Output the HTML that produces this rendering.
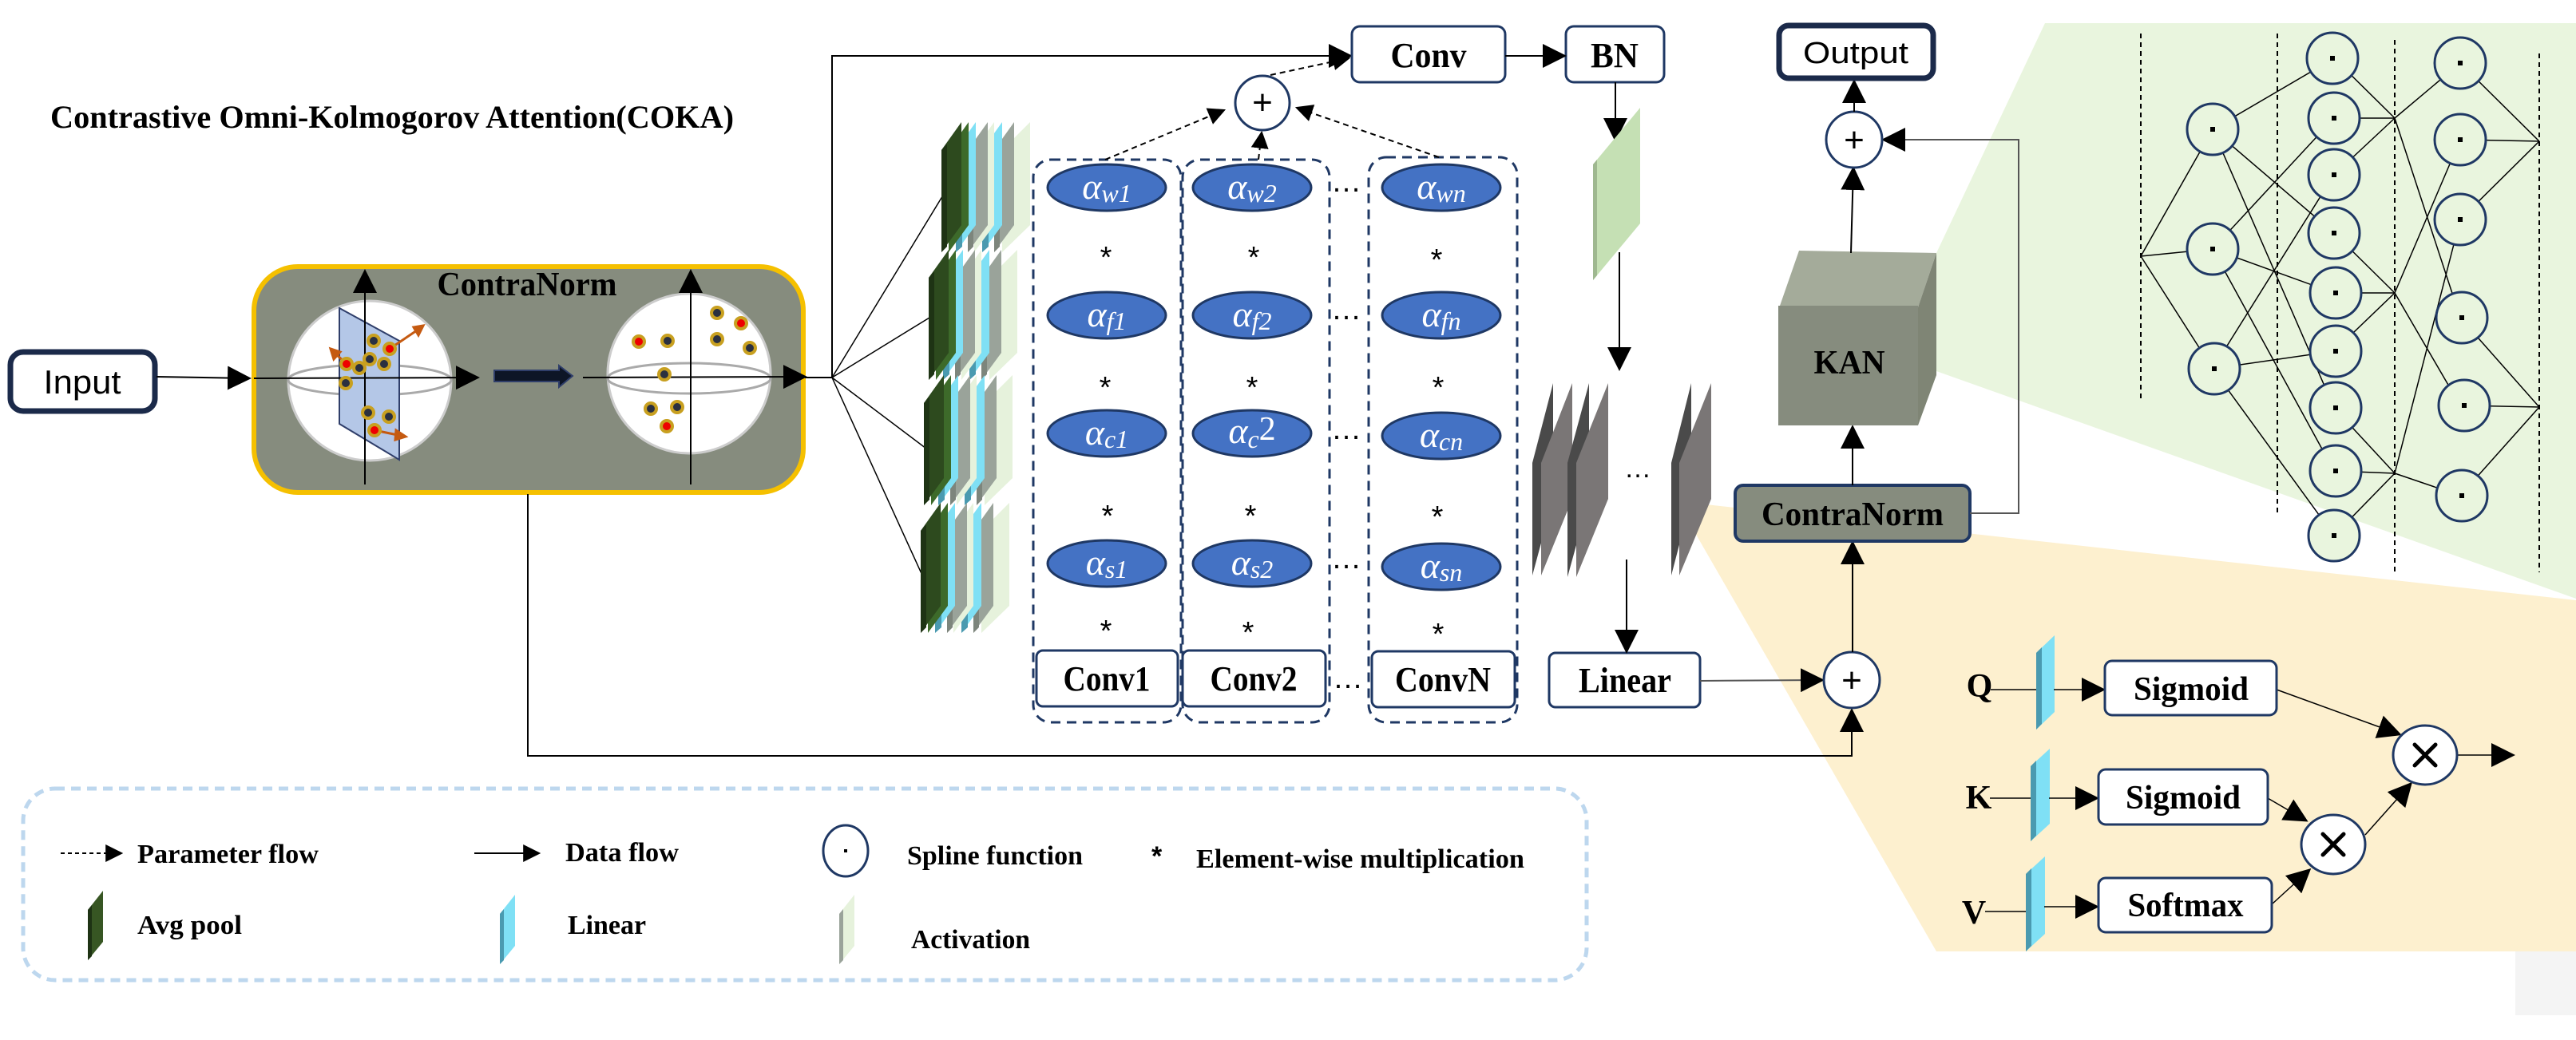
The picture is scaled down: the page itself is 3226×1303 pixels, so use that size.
<!DOCTYPE html>
<html><head><meta charset="utf-8"><style>html,body{margin:0;padding:0;background:#fff}svg{display:block}</style></head><body>
<svg width="3226" height="1303" viewBox="0 0 3226 1303" xmlns="http://www.w3.org/2000/svg" font-family="'Liberation Serif', serif">
<defs>
<marker id="a" viewBox="0 0 10 10" refX="9" refY="5" markerWidth="22" markerHeight="22" markerUnits="userSpaceOnUse" orient="auto"><path d="M0,0 L10,5 L0,10 z" fill="#000"/></marker>
<marker id="b" viewBox="0 0 10 10" refX="9" refY="5" markerWidth="30" markerHeight="30" markerUnits="userSpaceOnUse" orient="auto"><path d="M0,0 L10,5 L0,10 z" fill="#000"/></marker>
</defs>
<polygon points="2561,29 3226,29 3226,750 2425,465 2425,317" fill="#e9f5de"/>
<polygon points="2100,628 3226,752 3226,1192 2425,1192" fill="#fdf0cf"/>
<rect x="3150" y="1192" width="76" height="80" fill="#f4f4f4"/>

<text x="63" y="160" font-size="40" font-weight="bold" textLength="856" lengthAdjust="spacingAndGlyphs">Contrastive Omni-Kolmogorov Attention(COKA)</text>

<rect x="13" y="441" width="181" height="74" rx="16" fill="#fff" stroke="#1b2a4a" stroke-width="7"/>
<text x="103" y="493" font-family="'Liberation Sans',sans-serif" font-size="42" text-anchor="middle" textLength="97" lengthAdjust="spacingAndGlyphs">Input</text>
<line x1="196" y1="472" x2="312" y2="474" stroke="#000" stroke-width="2" marker-end="url(#b)"/>

<rect x="318" y="334" width="688" height="283" rx="55" fill="#868c7e" stroke="#f5c000" stroke-width="6"/>
<text x="660" y="370" font-size="42" font-weight="bold" text-anchor="middle" textLength="225" lengthAdjust="spacingAndGlyphs">ContraNorm</text>
<ellipse cx="463" cy="477" rx="102" ry="100" fill="#fff" stroke="#ccc" stroke-width="3"/>
<ellipse cx="863" cy="468" rx="102" ry="100" fill="#fff" stroke="#ccc" stroke-width="3"/>
<ellipse cx="463" cy="476" rx="102" ry="19" fill="none" stroke="#aaa" stroke-width="3"/>
<ellipse cx="863" cy="474" rx="102" ry="19" fill="none" stroke="#aaa" stroke-width="3"/>
<polygon points="425,386 500,427 500,576 425,531" fill="#b4c7e7" stroke="#2f3e6a" stroke-width="2"/>
<line x1="457" y1="607" x2="457" y2="340" stroke="#000" stroke-width="2" marker-end="url(#b)"/>
<line x1="865" y1="607" x2="865" y2="340" stroke="#000" stroke-width="2" marker-end="url(#b)"/>
<line x1="318" y1="474" x2="598" y2="473" stroke="#000" stroke-width="2" marker-end="url(#b)"/>
<line x1="730" y1="473" x2="1008" y2="472" stroke="#000" stroke-width="2" marker-end="url(#b)"/>
<polygon points="619,464 700,464 700,458 717,471 700,485 700,478 619,478" fill="#0d1526" stroke="#2f3e6a" stroke-width="2"/>
<g stroke="#c55a11" stroke-width="3" fill="#c55a11">
<line x1="488" y1="437" x2="522" y2="414"/><polygon points="530,408 518,410 524,420"/>
<line x1="434" y1="456" x2="420" y2="443"/><polygon points="414,437 418,450 426,441"/>
<line x1="469" y1="539" x2="498" y2="545"/><polygon points="508,547 496,539 495,551"/>
</g>
<g stroke="#c8a020" stroke-width="4">
<circle cx="468" cy="427" r="7" fill="#2a3040"/><circle cx="488" cy="437" r="7" fill="#e00"/><circle cx="434" cy="456" r="7" fill="#e00"/>
<circle cx="450" cy="461" r="7" fill="#2a3040"/><circle cx="463" cy="450" r="7" fill="#2a3040"/><circle cx="481" cy="456" r="7" fill="#2a3040"/>
<circle cx="433" cy="480" r="7" fill="#2a3040"/><circle cx="461" cy="517" r="7" fill="#2a3040"/><circle cx="487" cy="522" r="7" fill="#2a3040"/><circle cx="469" cy="539" r="7" fill="#e00"/>
<circle cx="898" cy="392" r="7" fill="#2a3040"/><circle cx="928" cy="405" r="7" fill="#e00"/><circle cx="800" cy="428" r="7" fill="#e00"/>
<circle cx="836" cy="427" r="7" fill="#2a3040"/><circle cx="898" cy="425" r="7" fill="#2a3040"/><circle cx="939" cy="436" r="7" fill="#2a3040"/>
<circle cx="832" cy="469" r="7" fill="#2a3040"/><circle cx="815" cy="512" r="7" fill="#2a3040"/><circle cx="848" cy="510" r="7" fill="#2a3040"/><circle cx="835" cy="534" r="7" fill="#e00"/>
</g>

<polyline points="661,619 661,947 2319,947 2319,890" fill="none" stroke="#000" stroke-width="2" marker-end="url(#b)"/>
<line x1="1008" y1="473" x2="1042" y2="473" stroke="#000" stroke-width="2"/>
<polyline points="1042,473 1042,70 1691,70" fill="none" stroke="#000" stroke-width="2" marker-end="url(#b)"/>
<g stroke="#000" stroke-width="1.5">
<line x1="1042" y1="473" x2="1182" y2="243"/><line x1="1042" y1="473" x2="1164" y2="398"/>
<line x1="1042" y1="473" x2="1160" y2="562"/><line x1="1042" y1="473" x2="1156" y2="723"/>
</g>

<g>
<g transform="translate(0,0)">
<polygon points="1255,188 1290,153 1290,282 1255,316" fill="#e6f2dc"/>
<polygon points="1245,188 1270,153 1270,282 1245,316" fill="#9aa39a"/><polygon points="1245,188 1252,180 1252,309 1245,316" fill="#7d857c"/>
<polygon points="1230,188 1255,153 1255,282 1230,316" fill="#7fe0f5"/><polygon points="1230,188 1238,180 1238,309 1230,316" fill="#4a9ab0"/>
<polygon points="1220,188 1245,153 1245,282 1220,316" fill="#e6f2dc"/>
<polygon points="1212,188 1237,153 1237,282 1212,316" fill="#9aa39a"/><polygon points="1212,188 1219,180 1219,309 1212,316" fill="#7d857c"/>
<polygon points="1197,188 1222,153 1222,282 1197,316" fill="#7fe0f5"/><polygon points="1197,188 1205,180 1205,309 1197,316" fill="#4a9ab0"/>
<polygon points="1188,188 1213,153 1213,282 1188,316" fill="#3d6a2a"/>
<polygon points="1179,188 1204,153 1204,282 1179,316" fill="#2d4a1e"/><polygon points="1179,188 1186,180 1186,309 1179,316" fill="#1e3314"/>
</g>
<g transform="translate(-16,160)">
<polygon points="1255,188 1290,153 1290,282 1255,316" fill="#e6f2dc"/>
<polygon points="1245,188 1270,153 1270,282 1245,316" fill="#9aa39a"/><polygon points="1245,188 1252,180 1252,309 1245,316" fill="#7d857c"/>
<polygon points="1230,188 1255,153 1255,282 1230,316" fill="#7fe0f5"/><polygon points="1230,188 1238,180 1238,309 1230,316" fill="#4a9ab0"/>
<polygon points="1220,188 1245,153 1245,282 1220,316" fill="#e6f2dc"/>
<polygon points="1212,188 1237,153 1237,282 1212,316" fill="#9aa39a"/><polygon points="1212,188 1219,180 1219,309 1212,316" fill="#7d857c"/>
<polygon points="1197,188 1222,153 1222,282 1197,316" fill="#7fe0f5"/><polygon points="1197,188 1205,180 1205,309 1197,316" fill="#4a9ab0"/>
<polygon points="1188,188 1213,153 1213,282 1188,316" fill="#3d6a2a"/>
<polygon points="1179,188 1204,153 1204,282 1179,316" fill="#2d4a1e"/><polygon points="1179,188 1186,180 1186,309 1179,316" fill="#1e3314"/>
</g>
<g transform="translate(-22,317)">
<polygon points="1255,188 1290,153 1290,282 1255,316" fill="#e6f2dc"/>
<polygon points="1245,188 1270,153 1270,282 1245,316" fill="#9aa39a"/><polygon points="1245,188 1252,180 1252,309 1245,316" fill="#7d857c"/>
<polygon points="1230,188 1255,153 1255,282 1230,316" fill="#7fe0f5"/><polygon points="1230,188 1238,180 1238,309 1230,316" fill="#4a9ab0"/>
<polygon points="1220,188 1245,153 1245,282 1220,316" fill="#e6f2dc"/>
<polygon points="1212,188 1237,153 1237,282 1212,316" fill="#9aa39a"/><polygon points="1212,188 1219,180 1219,309 1212,316" fill="#7d857c"/>
<polygon points="1197,188 1222,153 1222,282 1197,316" fill="#7fe0f5"/><polygon points="1197,188 1205,180 1205,309 1197,316" fill="#4a9ab0"/>
<polygon points="1188,188 1213,153 1213,282 1188,316" fill="#3d6a2a"/>
<polygon points="1179,188 1204,153 1204,282 1179,316" fill="#2d4a1e"/><polygon points="1179,188 1186,180 1186,309 1179,316" fill="#1e3314"/>
</g>
<g transform="translate(-26,477)">
<polygon points="1255,188 1290,153 1290,282 1255,316" fill="#e6f2dc"/>
<polygon points="1245,188 1270,153 1270,282 1245,316" fill="#9aa39a"/><polygon points="1245,188 1252,180 1252,309 1245,316" fill="#7d857c"/>
<polygon points="1230,188 1255,153 1255,282 1230,316" fill="#7fe0f5"/><polygon points="1230,188 1238,180 1238,309 1230,316" fill="#4a9ab0"/>
<polygon points="1220,188 1245,153 1245,282 1220,316" fill="#e6f2dc"/>
<polygon points="1212,188 1237,153 1237,282 1212,316" fill="#9aa39a"/><polygon points="1212,188 1219,180 1219,309 1212,316" fill="#7d857c"/>
<polygon points="1197,188 1222,153 1222,282 1197,316" fill="#7fe0f5"/><polygon points="1197,188 1205,180 1205,309 1197,316" fill="#4a9ab0"/>
<polygon points="1188,188 1213,153 1213,282 1188,316" fill="#3d6a2a"/>
<polygon points="1179,188 1204,153 1204,282 1179,316" fill="#2d4a1e"/><polygon points="1179,188 1186,180 1186,309 1179,316" fill="#1e3314"/>
</g>
</g>

<g fill="none" stroke="#1f3864" stroke-width="3" stroke-dasharray="12,8">
<rect x="1294" y="200" width="185" height="705" rx="22"/>
<rect x="1481" y="200" width="184" height="705" rx="22"/>
<rect x="1714" y="197" width="186" height="708" rx="22"/>
</g>
<g stroke="#000" stroke-width="2" stroke-dasharray="7,5" fill="none">
<line x1="1384" y1="200" x2="1533" y2="138" marker-end="url(#a)"/>
<line x1="1576" y1="200" x2="1580" y2="166" marker-end="url(#a)"/>
<line x1="1802" y1="197" x2="1624" y2="135" marker-end="url(#a)"/>
<line x1="1591" y1="94" x2="1689" y2="73" marker-end="url(#a)"/>
</g>
<circle cx="1581" cy="129" r="34" fill="#fff" stroke="#1f3864" stroke-width="3"/>
<text x="1581" y="143" font-family="'Liberation Sans',sans-serif" font-size="44" text-anchor="middle">+</text>

<g fill="#4472c4" stroke="#1f3864" stroke-width="3">
<ellipse cx="1386" cy="235" rx="74" ry="29"/><ellipse cx="1568" cy="235" rx="74" ry="29"/><ellipse cx="1805" cy="235" rx="74" ry="29"/>
<ellipse cx="1386" cy="395" rx="74" ry="29"/><ellipse cx="1568" cy="395" rx="74" ry="29"/><ellipse cx="1805" cy="395" rx="74" ry="29"/>
<ellipse cx="1386" cy="543" rx="74" ry="29"/><ellipse cx="1568" cy="543" rx="74" ry="29"/><ellipse cx="1805" cy="546" rx="74" ry="29"/>
<ellipse cx="1386" cy="706" rx="74" ry="29"/><ellipse cx="1568" cy="706" rx="74" ry="29"/><ellipse cx="1805" cy="710" rx="74" ry="29"/>
</g>
<g fill="#fff" font-style="italic" font-size="46" text-anchor="middle">
<text x="1386" y="249">α<tspan font-size="32" dy="4">w1</tspan></text>
<text x="1568" y="249">α<tspan font-size="32" dy="4">w2</tspan></text>
<text x="1805" y="249">α<tspan font-size="32" dy="4">wn</tspan></text>
<text x="1386" y="409">α<tspan font-size="32" dy="4">f1</tspan></text>
<text x="1568" y="409">α<tspan font-size="32" dy="4">f2</tspan></text>
<text x="1805" y="409">α<tspan font-size="32" dy="4">fn</tspan></text>
<text x="1386" y="557">α<tspan font-size="32" dy="4">c1</tspan></text>
<text x="1568" y="555">α<tspan font-size="32" dy="6">c</tspan><tspan font-size="42" font-style="normal" dy="-10">2</tspan></text>
<text x="1805" y="560">α<tspan font-size="32" dy="4">cn</tspan></text>
<text x="1386" y="720">α<tspan font-size="32" dy="4">s1</tspan></text>
<text x="1568" y="720">α<tspan font-size="32" dy="4">s2</tspan></text>
<text x="1805" y="724">α<tspan font-size="32" dy="4">sn</tspan></text>
</g>
<g font-family="'Liberation Sans',sans-serif" font-size="38" text-anchor="middle">
<text x="1385" y="335">*</text><text x="1570" y="335">*</text><text x="1799" y="338">*</text>
<text x="1384" y="498">*</text><text x="1568" y="498">*</text><text x="1801" y="498">*</text>
<text x="1387" y="659">*</text><text x="1566" y="659">*</text><text x="1800" y="660">*</text>
<text x="1385" y="803">*</text><text x="1563" y="805">*</text><text x="1801" y="807">*</text>
<text x="1686" y="240">…</text><text x="1686" y="400">…</text><text x="1686" y="550">…</text><text x="1686" y="712">…</text><text x="1688" y="862">…</text>
</g>

<g fill="#fff" stroke="#1f3864" stroke-width="3">
<rect x="1298" y="815" width="177" height="70" rx="8"/>
<rect x="1481" y="815" width="179" height="70" rx="8"/>
<rect x="1718" y="816" width="179" height="70" rx="8"/>
<rect x="1693" y="33" width="192" height="70" rx="10"/>
<rect x="1961" y="33" width="123" height="70" rx="10"/>
<rect x="1940" y="818" width="189" height="68" rx="8"/>
</g>
<g font-size="44" font-weight="bold" text-anchor="middle">
<text x="1386" y="865" textLength="109" lengthAdjust="spacingAndGlyphs">Conv1</text>
<text x="1570" y="865" textLength="109" lengthAdjust="spacingAndGlyphs">Conv2</text>
<text x="1807" y="866" textLength="120" lengthAdjust="spacingAndGlyphs">ConvN</text>
<text x="1789" y="84" textLength="95" lengthAdjust="spacingAndGlyphs">Conv</text>
<text x="2022" y="84" textLength="60" lengthAdjust="spacingAndGlyphs">BN</text>
<text x="2035" y="867" textLength="116" lengthAdjust="spacingAndGlyphs">Linear</text>
</g>
<line x1="1885" y1="70" x2="1959" y2="70" stroke="#000" stroke-width="2" marker-end="url(#b)"/>
<line x1="2023" y1="103" x2="2023" y2="175" stroke="#000" stroke-width="2" marker-end="url(#b)"/>
<polygon points="1995,206 2054,135 2054,280 1995,351" fill="#c5e0b4"/>
<polygon points="1995,206 2000,200 2000,345 1995,351" fill="#9fb890"/>
<line x1="2028" y1="316" x2="2028" y2="462" stroke="#000" stroke-width="2" marker-end="url(#b)"/>
<g>
<polygon points="1919,580 1945,480 1945,625 1919,721" fill="#4a4a4a"/>
<polygon points="1930,580 1969,480 1969,625 1930,721" fill="#7a7676"/>
<polygon points="1963,580 1990,480 1990,625 1963,723" fill="#4a4a4a"/>
<polygon points="1974,580 2014,480 2014,625 1974,723" fill="#7a7676"/>
<polygon points="2093,580 2118,480 2118,625 2093,721" fill="#4a4a4a"/>
<polygon points="2103,580 2143,480 2143,625 2103,721" fill="#7a7676"/>
</g>
<text x="2051" y="598" font-family="'Liberation Sans',sans-serif" font-size="34" text-anchor="middle">…</text>
<line x1="2037" y1="701" x2="2037" y2="816" stroke="#000" stroke-width="2" marker-end="url(#b)"/>
<line x1="2129" y1="853" x2="2282" y2="852" stroke="#555" stroke-width="2" marker-end="url(#b)"/>

<circle cx="2319" cy="852" r="35" fill="#fff" stroke="#1f3864" stroke-width="3"/>
<text x="2319" y="867" font-family="'Liberation Sans',sans-serif" font-size="44" text-anchor="middle">+</text>
<line x1="2320" y1="817" x2="2320" y2="680" stroke="#000" stroke-width="2" marker-end="url(#b)"/>
<rect x="2173" y="608" width="294" height="70" rx="10" fill="#868c7e" stroke="#1f3864" stroke-width="4"/>
<text x="2320" y="658" font-size="42" font-weight="bold" text-anchor="middle" textLength="228" lengthAdjust="spacingAndGlyphs">ContraNorm</text>
<polyline points="2467,643 2528,643 2528,175 2359,175" fill="none" stroke="#555" stroke-width="2" marker-end="url(#b)"/>
<line x1="2320" y1="608" x2="2320" y2="535" stroke="#000" stroke-width="2" marker-end="url(#b)"/>
<polygon points="2229,383 2253,314 2425,317 2402,385" fill="#a4ab9a"/>
<polygon points="2402,385 2425,317 2425,470 2402,533" fill="#7f8575"/>
<rect x="2227" y="383" width="175" height="150" fill="#868c7e"/>
<text x="2316" y="468" font-size="42" font-weight="bold" text-anchor="middle" textLength="89" lengthAdjust="spacingAndGlyphs">KAN</text>
<line x1="2318" y1="317" x2="2321" y2="211" stroke="#000" stroke-width="2" marker-end="url(#b)"/>
<circle cx="2322" cy="175" r="35" fill="#fff" stroke="#1f3864" stroke-width="3"/>
<text x="2322" y="190" font-family="'Liberation Sans',sans-serif" font-size="44" text-anchor="middle">+</text>
<line x1="2322" y1="140" x2="2322" y2="102" stroke="#000" stroke-width="2" marker-end="url(#b)"/>
<rect x="2228" y="32" width="193" height="66" rx="12" fill="#fff" stroke="#1b2a4a" stroke-width="7"/>
<text x="2324" y="79" font-family="'Liberation Sans',sans-serif" font-size="38" text-anchor="middle" textLength="132" lengthAdjust="spacingAndGlyphs">Output</text>

<g stroke="#000" stroke-width="2" stroke-dasharray="6,5">
<line x1="2681" y1="42" x2="2681" y2="504"/><line x1="2852" y1="42" x2="2852" y2="642"/>
<line x1="2999" y1="50" x2="2999" y2="717"/><line x1="3180" y1="67" x2="3180" y2="717"/>
</g>
<g stroke="#000" stroke-width="1.5" fill="none">
<line x1="2681" y1="321" x2="2771" y2="162"/><line x1="2681" y1="321" x2="2771" y2="312"/><line x1="2681" y1="321" x2="2771" y2="462"/>
<line x1="2771" y1="162" x2="2923" y2="73"/><line x1="2771" y1="162" x2="2923" y2="292"/><line x1="2771" y1="162" x2="2923" y2="511"/>
<line x1="2771" y1="312" x2="2923" y2="148"/><line x1="2771" y1="312" x2="2923" y2="367"/><line x1="2771" y1="312" x2="2923" y2="590"/>
<line x1="2771" y1="462" x2="2923" y2="219"/><line x1="2771" y1="462" x2="2923" y2="440"/><line x1="2771" y1="462" x2="2923" y2="671"/>
<line x1="2923" y1="73" x2="2999" y2="148"/><line x1="2923" y1="148" x2="2999" y2="148"/><line x1="2923" y1="219" x2="2999" y2="148"/>
<line x1="2923" y1="292" x2="2999" y2="367"/><line x1="2923" y1="367" x2="2999" y2="367"/><line x1="2923" y1="440" x2="2999" y2="367"/>
<line x1="2923" y1="511" x2="2999" y2="593"/><line x1="2923" y1="590" x2="2999" y2="593"/><line x1="2923" y1="671" x2="2999" y2="593"/>
<line x1="2999" y1="148" x2="3081" y2="79"/><line x1="2999" y1="148" x2="3081" y2="398"/>
<line x1="2999" y1="367" x2="3081" y2="175"/><line x1="2999" y1="367" x2="3081" y2="508"/>
<line x1="2999" y1="593" x2="3081" y2="275"/><line x1="2999" y1="593" x2="3081" y2="621"/>
<line x1="3081" y1="79" x2="3180" y2="177"/><line x1="3081" y1="175" x2="3180" y2="177"/><line x1="3081" y1="275" x2="3180" y2="177"/>
<line x1="3081" y1="398" x2="3180" y2="510"/><line x1="3081" y1="508" x2="3180" y2="510"/><line x1="3081" y1="621" x2="3180" y2="510"/>
</g>
<g fill="#e9f5de" stroke="#1f3864" stroke-width="3">
<circle cx="2771" cy="162" r="32"/><circle cx="2771" cy="312" r="32"/><circle cx="2773" cy="462" r="32"/>
<circle cx="2921" cy="73" r="32"/><circle cx="2923" cy="148" r="32"/><circle cx="2923" cy="219" r="32"/><circle cx="2923" cy="292" r="32"/><circle cx="2925" cy="367" r="32"/><circle cx="2925" cy="440" r="32"/><circle cx="2925" cy="511" r="32"/><circle cx="2925" cy="590" r="32"/><circle cx="2923" cy="671" r="32"/>
<circle cx="3081" cy="79" r="32"/><circle cx="3081" cy="175" r="32"/><circle cx="3081" cy="275" r="32"/><circle cx="3083" cy="398" r="32"/><circle cx="3086" cy="508" r="32"/><circle cx="3083" cy="621" r="32"/>
</g>
<g fill="#000">
<rect x="2768" y="159" width="6" height="6"/><rect x="2768" y="309" width="6" height="6"/><rect x="2770" y="459" width="6" height="6"/>
<rect x="2918" y="70" width="6" height="6"/><rect x="2920" y="145" width="6" height="6"/><rect x="2920" y="216" width="6" height="6"/><rect x="2920" y="289" width="6" height="6"/><rect x="2922" y="364" width="6" height="6"/><rect x="2922" y="437" width="6" height="6"/><rect x="2922" y="508" width="6" height="6"/><rect x="2922" y="587" width="6" height="6"/><rect x="2920" y="668" width="6" height="6"/>
<rect x="3078" y="76" width="6" height="6"/><rect x="3078" y="172" width="6" height="6"/><rect x="3078" y="272" width="6" height="6"/><rect x="3080" y="395" width="6" height="6"/><rect x="3083" y="505" width="6" height="6"/><rect x="3080" y="618" width="6" height="6"/>
</g>

<g font-size="42" font-weight="bold" text-anchor="middle">
<text x="2479" y="873">Q</text><text x="2478" y="1013">K</text><text x="2472" y="1157">V</text>
</g>
<g stroke="#000" stroke-width="1.5">
<line x1="2493" y1="864" x2="2552" y2="864"/><line x1="2492" y1="1000" x2="2545" y2="1000"/><line x1="2486" y1="1142" x2="2539" y2="1142"/>
</g>
<g>
<polygon points="2550,818 2573,796 2573,892 2550,914" fill="#7fe0f5"/><polygon points="2550,818 2557,811 2557,907 2550,914" fill="#4a9ab0"/>
<polygon points="2543,960 2567,938 2567,1032 2543,1054" fill="#7fe0f5"/><polygon points="2543,960 2550,953 2550,1047 2543,1054" fill="#4a9ab0"/>
<polygon points="2537,1095 2561,1073 2561,1170 2537,1192" fill="#7fe0f5"/><polygon points="2537,1095 2544,1088 2544,1185 2537,1192" fill="#4a9ab0"/>
</g>
<g stroke="#000" stroke-width="1.5">
<line x1="2572" y1="864" x2="2634" y2="864" marker-end="url(#b)"/>
<line x1="2566" y1="1000" x2="2626" y2="1000" marker-end="url(#b)"/>
<line x1="2560" y1="1136" x2="2626" y2="1136" marker-end="url(#b)"/>
<line x1="2851" y1="864" x2="3005" y2="920" marker-end="url(#b)"/>
<line x1="2840" y1="1000" x2="2888" y2="1028" marker-end="url(#b)"/>
<line x1="2845" y1="1133" x2="2892" y2="1090" marker-end="url(#b)"/>
<line x1="2962" y1="1046" x2="3019" y2="982" marker-end="url(#b)"/>
<line x1="3077" y1="946" x2="3147" y2="946" marker-end="url(#b)"/>
</g>
<g fill="#fff" stroke="#1f3864" stroke-width="3">
<rect x="2636" y="828" width="215" height="68" rx="9"/>
<rect x="2628" y="964" width="212" height="69" rx="9"/>
<rect x="2628" y="1100" width="217" height="68" rx="9"/>
<ellipse cx="3037" cy="946" rx="40" ry="37"/>
<ellipse cx="2922" cy="1058" rx="40" ry="37"/>
</g>
<g font-size="42" font-weight="bold" text-anchor="middle">
<text x="2744" y="877" textLength="144" lengthAdjust="spacingAndGlyphs">Sigmoid</text>
<text x="2734" y="1013" textLength="144" lengthAdjust="spacingAndGlyphs">Sigmoid</text>
<text x="2737" y="1148" textLength="145" lengthAdjust="spacingAndGlyphs">Softmax</text>
</g>
<g stroke="#000" stroke-width="5" stroke-linecap="round">
<line x1="3024" y1="933" x2="3050" y2="959"/><line x1="3050" y1="933" x2="3024" y2="959"/>
<line x1="2909" y1="1045" x2="2935" y2="1071"/><line x1="2935" y1="1045" x2="2909" y2="1071"/>
</g>

<rect x="29" y="988" width="1958" height="240" rx="40" fill="none" stroke="#bdd7ee" stroke-width="5" stroke-dasharray="12,8"/>
<line x1="76" y1="1069" x2="152" y2="1069" stroke="#000" stroke-width="2" stroke-dasharray="5,4" marker-end="url(#a)"/>
<line x1="594" y1="1069" x2="675" y2="1069" stroke="#000" stroke-width="2" marker-end="url(#a)"/>
<ellipse cx="1059" cy="1066" rx="28" ry="32" fill="#fff" stroke="#1f3864" stroke-width="3"/>
<rect x="1057" y="1064" width="4" height="4" fill="#000"/>
<g font-size="34" font-weight="bold">
<text x="172" y="1081" textLength="227" lengthAdjust="spacingAndGlyphs">Parameter flow</text>
<text x="708" y="1079" textLength="142" lengthAdjust="spacingAndGlyphs">Data flow</text>
<text x="1136" y="1083" textLength="220" lengthAdjust="spacingAndGlyphs">Spline function</text>
<text x="1442" y="1084" font-family="'Liberation Sans',sans-serif">*</text>
<text x="1498" y="1087" textLength="411" lengthAdjust="spacingAndGlyphs">Element-wise multiplication</text>
<text x="172" y="1170" textLength="131" lengthAdjust="spacingAndGlyphs">Avg pool</text>
<text x="711" y="1170" textLength="98" lengthAdjust="spacingAndGlyphs">Linear</text>
<text x="1141" y="1188" textLength="149" lengthAdjust="spacingAndGlyphs">Activation</text>
</g>
<polygon points="110,1140 129,1116 129,1180 110,1203" fill="#375623"/><polygon points="110,1140 115,1134 115,1198 110,1203" fill="#1e3314"/>
<polygon points="626,1145 645,1121 645,1185 626,1208" fill="#7fe0f5"/><polygon points="626,1145 631,1139 631,1203 626,1208" fill="#4a9ab0"/>
<polygon points="1051,1145 1070,1121 1070,1185 1051,1208" fill="#e6f2dc"/><polygon points="1051,1145 1056,1139 1056,1203 1051,1208" fill="#9aa39a"/>
</svg>
</body></html>
